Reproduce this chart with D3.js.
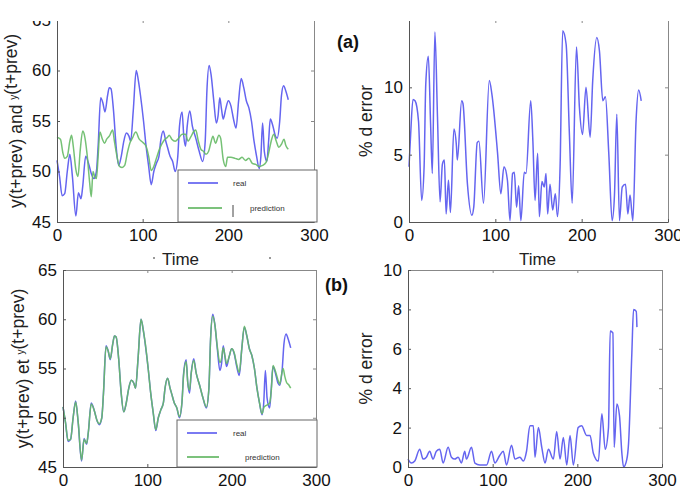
<!DOCTYPE html>
<html>
<head>
<meta charset="utf-8">
<script src="https://cdn.jsdelivr.net/npm/d3@7/dist/d3.min.js"></script>
<style>
body { margin: 0; background: #fff; }
svg { display: block; font-family: "Liberation Sans", Arial, sans-serif; }
.axis path, .axis line { stroke: #555; }
.axis text { font-size: 17px; fill: #111; }
.axis.light path, .axis.light line { stroke: #888; }
</style>
</head>
<body>
<svg width="680" height="496"></svg>
<script>
// time ticks shared by all four panels
var timeTicks = [0, 100, 200, 300];
var levelTicks = [45, 50, 55, 60, 65];
var errorTicksA = [0, 5, 10, 15];
var errorTicksB = [0, 2, 4, 6, 8, 10];

// real series (same in both rows) [time, value]
var real = [[0,51.1],[3,49.5],[6,47.6],[9,47.8],[12,50],[15,51.7],[18,49.5],[22,45.6],[25,47.9],[28,47.3],[30,48.5],[33.5,51.5],[37.5,50.6],[40,49.8],[43,49.3],[46,50],[48,52.5],[51,57.3],[53.5,56.8],[56,55.9],[59,57.5],[61,58.3],[63,58.2],[66,56],[69,52.5],[72,50.6],[75,51.5],[78,53],[81,53.8],[84,53.5],[86,53],[89,56],[92.5,60],[95,59],[97.5,57.5],[101,55],[104,52.5],[107,50.5],[110,48.7],[113,50],[116,50.8],[119,51.5],[121,53],[124,54],[127,53],[129,52.4],[132,51.5],[135,51],[138,50],[141,51.5],[143,54.5],[146,55.9],[148,53.5],[150,52.5],[152,54.5],[155,56],[158,54.5],[162,53.3],[166,52],[170,51],[173,53],[175,58],[177.6,60.5],[180,59.5],[183,57],[186,54.8],[188,55.5],[190,57.3],[192,56.2],[194,55.2],[197,56.2],[200,57],[203,56.5],[206,55.2],[209,54.3],[212,57],[215,59.2],[218,58.3],[221,57],[224,56.3],[227,55],[230,53],[233,51.5],[236,50.3],[238,51.5],[240,54.8],[242,52],[245,51],[247,53],[249,55.2],[252,54.5],[255,53.5],[257,53.3],[260,55],[262,57.5],[264.5,58.5],[267,58],[270,57.1]];

// prediction, model (a)
var predA = [[0,53.4],[4,53.2],[7,51.8],[9,51.3],[12,51.5],[15,53],[17,53.6],[19,52.5],[22,50.2],[24.5,49.5],[27,52],[30,54],[32,53.6],[35,51.8],[38,49],[40,47.5],[42,50],[44,49.5],[46,49.3],[48,51.5],[50,53.9],[53,53.2],[55.5,52.8],[58,53.2],[61,53.5],[65,54.1],[67,53],[70,51.5],[73,50.5],[76,50.4],[79,50.6],[82,51.8],[85,52.8],[88,53.3],[92,53.9],[96,53.2],[100,52.9],[104,52.5],[107,51.5],[110,50.1],[113,50.5],[116,51.3],[120,52.3],[125,53.1],[129,53.4],[131,53.6],[134,53.2],[138,53],[142,53.3],[146,53.7],[150,53.7],[153,53],[156,53.4],[160,54],[162,54.1],[165,53],[168,52.2],[171,52],[174,51.7],[177,52],[180,53],[182,53.5],[185,52.8],[189,53.6],[191,53.3],[194,51.2],[197,50.5],[199,51.4],[203,51.4],[208,51.3],[212,51.2],[216,51.4],[220,51.1],[224,51.3],[228,50.8],[232,50.7],[236,50.5],[240,50.6],[244,50.9],[247,51.8],[250,53],[253,53.7],[256,53],[259,52.4],[262,52.7],[265,53.2],[267,52.6],[270,52.2]];

// prediction, model (b)
var predB = [[0,51.1],[3,49.5],[6,47.7],[9,47.8],[12,50],[15,51.6],[18,49.6],[22,45.7],[25,47.8],[28,47.4],[30,48.5],[33.5,51.4],[37.5,50.6],[40,49.8],[43,49.4],[46,50],[48,52.5],[51,57.2],[53.5,56.8],[56,56],[59,57.5],[61,58.3],[63,58.2],[66,56],[69,52.5],[72,50.6],[75,51.5],[78,53],[81,53.8],[84,53.5],[86,53],[89,56],[92.5,60],[95,59],[97.5,57.6],[101,55],[104,52.5],[107,50.5],[110,48.8],[113,50],[116,50.8],[119,51.5],[121,53],[124,54],[127,53],[129,52.4],[132,51.5],[135,51],[138,50.1],[141,51.5],[143,54.3],[146,55.7],[148,53.5],[150,52.8],[152,54.5],[155,55.8],[158,54.5],[162,53.3],[166,52],[170,51.1],[173,53],[175,58],[177.6,60.3],[180,59.5],[183,57.2],[186,55.6],[188,56],[190,57.1],[192,56.3],[194,55.5],[197,56.2],[200,57],[203,56.6],[206,55.4],[209,54.6],[212,57],[215,59.3],[218,58.3],[221,57],[224,56.3],[227,55],[230,53],[233,51.5],[236,50.4],[238,51],[240,51.2],[242,51.3],[245,51.5],[247,52.8],[249,55.3],[252,54.7],[255,53.8],[257,53.4],[259,54.3],[261,55],[263,54.2],[265,53.6],[268,53.3],[270,53]];

// percentage error, model (a)
var errorA = [[0,4.1],[1.9,6.5],[4.6,9.1],[7,9],[11,7.5],[14.7,1.6],[17.5,4.1],[19.4,10.2],[22.4,12.3],[25,7.3],[27,3.6],[30,14.1],[33,7.8],[36,1.5],[38.7,4.3],[41,4.6],[43,0.6],[45.7,3.1],[48,0.7],[52,6.9],[55,5.6],[56,4.6],[61,9],[62.5,8.8],[67.7,2.8],[72.8,0.5],[75,1.1],[79,5.9],[81,6],[86.3,1.4],[93,10.5],[96,9.5],[102.6,5.1],[106.4,2.1],[110,4.1],[114,3.1],[117,0.1],[120,3.6],[122,3.7],[124.6,1.1],[127,2.7],[129.6,0.1],[133.5,3.7],[135.5,3.6],[141,9],[143.5,6],[146,1.6],[149,5.1],[151,0.4],[154,3],[156.7,2.6],[158.7,3.6],[160.6,0.6],[163.3,2.8],[166.4,0.9],[169.5,2.1],[172,0.4],[175,4.1],[178,14.2],[182,13.2],[185.8,6.5],[189,1.4],[194,13],[197.4,8.5],[201,6.5],[205,10],[209.8,6.3],[212.8,10.5],[217.5,13.7],[220.6,12.7],[224.5,9],[227.5,9.3],[231.4,5.1],[235.3,0.1],[238,2],[240.7,8],[243.8,0.1],[247,2.6],[250.8,2.8],[253.5,0.6],[256,2],[259.3,0.1],[263,7.5],[266,9.8],[269,9]];

// percentage error, model (b)
var errorB = [[0,0.4],[4,0.2],[8,0.3],[13.8,0.9],[17.8,0.4],[21.7,0.5],[25.6,0.8],[29.6,0.4],[33.5,0.8],[37.5,0.9],[41.5,0.2],[47.4,1],[51.3,0.5],[55.3,0.4],[59.2,0.5],[63.1,0.2],[67,0.8],[69,0.4],[75,1],[79,0.2],[84.9,0.1],[92.8,0.1],[98.7,0.8],[102.6,0.2],[108.5,0.6],[112.5,0.8],[116.4,0.1],[122.3,1.1],[126.3,0.4],[132.2,0.5],[136.2,0.3],[140,0.8],[144,2.1],[148,2.1],[150,0.5],[154,2],[158,1],[161.9,0.2],[165.8,0.9],[171.7,0.4],[175.6,1.8],[179.6,0.4],[183.5,1.5],[187.5,0.1],[191.4,1.6],[195.3,0.1],[201,2],[205,2.1],[211,1.6],[215,1.6],[218.9,0.7],[224.8,0.3],[229,2.7],[232.9,0.9],[236.8,2],[238.8,6.9],[242,6.8],[243.5,1],[246.7,3.2],[249.8,2.6],[252.6,0.7],[254.6,0],[258.5,0.4],[260.5,1.2],[264.4,5.8],[266.4,8],[269.6,7.9],[270.4,7.1]];

var blue = "#6565f0";
var green = "#66ba66";

var svg = d3.select("svg");

function drawPanel(p) {
    var yMax = p.yTicks[p.yTicks.length - 1];
    var x = d3.scaleLinear().domain([0, 300]).range([p.left, p.right]);
    var y = d3.scaleLinear().domain([p.yTicks[0], yMax]).range([p.bottom, p.top]);
    var g = svg.append("g");

    var line = d3.line()
        .x(d => x(d[0]))
        .y(d => y(d[1]))
        .curve(d3.curveMonotoneX);

    p.series.forEach(function(s) {
        g.append("path")
            .attr("d", line(s.data))
            .attr("fill", "none")
            .attr("stroke", s.color)
            .attr("stroke-width", 1.5)
            .attr("stroke-linejoin", "round")
            .attr("stroke-opacity", s.opacity || 1);
    });

    // matlab-like box with inward ticks
    g.append("g").attr("class", "axis light")
        .attr("transform", `translate(${p.right},0)`)
        .call(d3.axisRight(y).tickValues(p.yTicks).tickSizeInner(-3).tickSizeOuter(0).tickFormat(""));

    var top = g.append("g").attr("class", "axis light")
        .attr("transform", `translate(0,${p.top})`)
        .call(d3.axisTop(x).tickValues(timeTicks).tickSizeInner(-3).tickSizeOuter(0).tickFormat(""));
    if (!p.topLine) top.select(".domain").remove();

    g.append("g").attr("class", "axis")
        .attr("transform", `translate(0,${p.bottom})`)
        .call(d3.axisBottom(x).tickValues(timeTicks).tickSizeInner(-3).tickSizeOuter(0).tickPadding(7));

    g.append("g").attr("class", "axis")
        .attr("transform", `translate(${p.left},0)`)
        .call(d3.axisLeft(y).tickValues(p.yTicks).tickSizeInner(-3).tickSizeOuter(0).tickPadding(6)
            .tickFormat(d => (p.hideTopLabel && d === yMax) ? "" : d));

    // y label
    var yl = g.append("text")
        .attr("transform", `translate(${p.labelX},${(p.top + p.bottom) / 2}) rotate(-90)`)
        .attr("text-anchor", "middle")
        .style("font-size", "17.5px")
        .style("fill", "#222");
    p.yLabel.forEach(function(part) {
        if (part.sup) {
            yl.append("tspan").attr("dy", "-0.5em").style("font-size", "10px").text(part.text);
            yl.append("tspan").attr("dy", "0.5em").text("");
        } else {
            yl.append("tspan").text(part.text);
        }
    });

    if (p.legend) {
        var L = p.legend;
        g.append("rect")
            .attr("x", L.x).attr("y", L.y).attr("width", L.w).attr("height", L.h)
            .attr("fill", "#fff").attr("stroke", "#666").attr("stroke-width", 1);
        L.items.forEach(function(it, i) {
            var yy = L.y + L.rows[i];
            g.append("line")
                .attr("x1", L.x + 10).attr("x2", L.x + 10 + it.len)
                .attr("y1", yy).attr("y2", yy)
                .attr("stroke", it.color).attr("stroke-width", 2);
            g.append("text")
                .attr("x", L.x + it.textX).attr("y", yy + 3)
                .style("font-size", "8px").style("fill", "#333")
                .text(it.label);
        });
        if (L.bar) {
            g.append("line")
                .attr("x1", L.bar[0]).attr("x2", L.bar[0])
                .attr("y1", L.bar[1]).attr("y2", L.bar[2])
                .attr("stroke", "#444").attr("stroke-width", 1);
        }
    }

    if (p.xLabel) {
        g.append("text")
            .attr("x", (p.left + p.right) / 2 + p.xLabel.dx).attr("y", p.xLabel.y)
            .attr("text-anchor", "middle")
            .style("font-size", "17px").style("fill", "#222")
            .text("Time");
    }
}

drawPanel({
    left: 57, right: 314, top: 20, bottom: 222,
    yTicks: levelTicks, topLine: false, labelX: 22,
    yLabel: [{text: "y(t+prev) and "}, {text: "y", sup: true}, {text: "(t+prev)"}],
    series: [{data: real, color: blue}, {data: predA, color: green, opacity: 0.9}],
    legend: {x: 178, y: 170, w: 139, h: 52, rows: [13, 38],
        items: [{label: "real", color: "#7a7af2", len: 30, textX: 55},
                {label: "prediction", color: "#7cc27c", len: 34, textX: 72}],
        bar: [233, 205, 217]},
    xLabel: {dx: -5, y: 265}
});

drawPanel({
    left: 409, right: 668, top: 20, bottom: 222,
    yTicks: errorTicksA, topLine: false, hideTopLabel: true, labelX: 372,
    yLabel: [{text: "% d error"}],
    series: [{data: errorA, color: blue}],
    xLabel: {dx: -1, y: 265}
});

drawPanel({
    left: 63, right: 316, top: 270, bottom: 467,
    yTicks: levelTicks, topLine: true, labelX: 29,
    yLabel: [{text: "y(t+prev) et "}, {text: "y", sup: true}, {text: "(t+prev)"}],
    series: [{data: real, color: blue}, {data: predB, color: green, opacity: 0.9}],
    legend: {x: 177, y: 420, w: 140, h: 47, rows: [13, 37],
        items: [{label: "real", color: "#7a7af2", len: 30, textX: 56},
                {label: "prediction", color: "#7cc27c", len: 32, textX: 68}]}
});

drawPanel({
    left: 408, right: 662, top: 270, bottom: 467,
    yTicks: errorTicksB, topLine: true, labelX: 372,
    yLabel: [{text: "% d error"}],
    series: [{data: errorB, color: blue}]
});

// the original image is cropped along its top edge
svg.append("rect").attr("x", 0).attr("y", 0).attr("width", 680).attr("height", 21).attr("fill", "#fff");

// small marks beside the first Time label
[[154, 258], [270, 258]].forEach(function(d) {
    svg.append("circle").attr("cx", d[0]).attr("cy", d[1]).attr("r", 1).attr("fill", "#777");
});

svg.append("text").attr("x", 337).attr("y", 48)
    .style("font-size", "18px").style("font-weight", "bold").style("fill", "#111").text("(a)");
svg.append("text").attr("x", 325).attr("y", 291)
    .style("font-size", "18px").style("font-weight", "bold").style("fill", "#111").text("(b)");
</script>
</body>
</html>
